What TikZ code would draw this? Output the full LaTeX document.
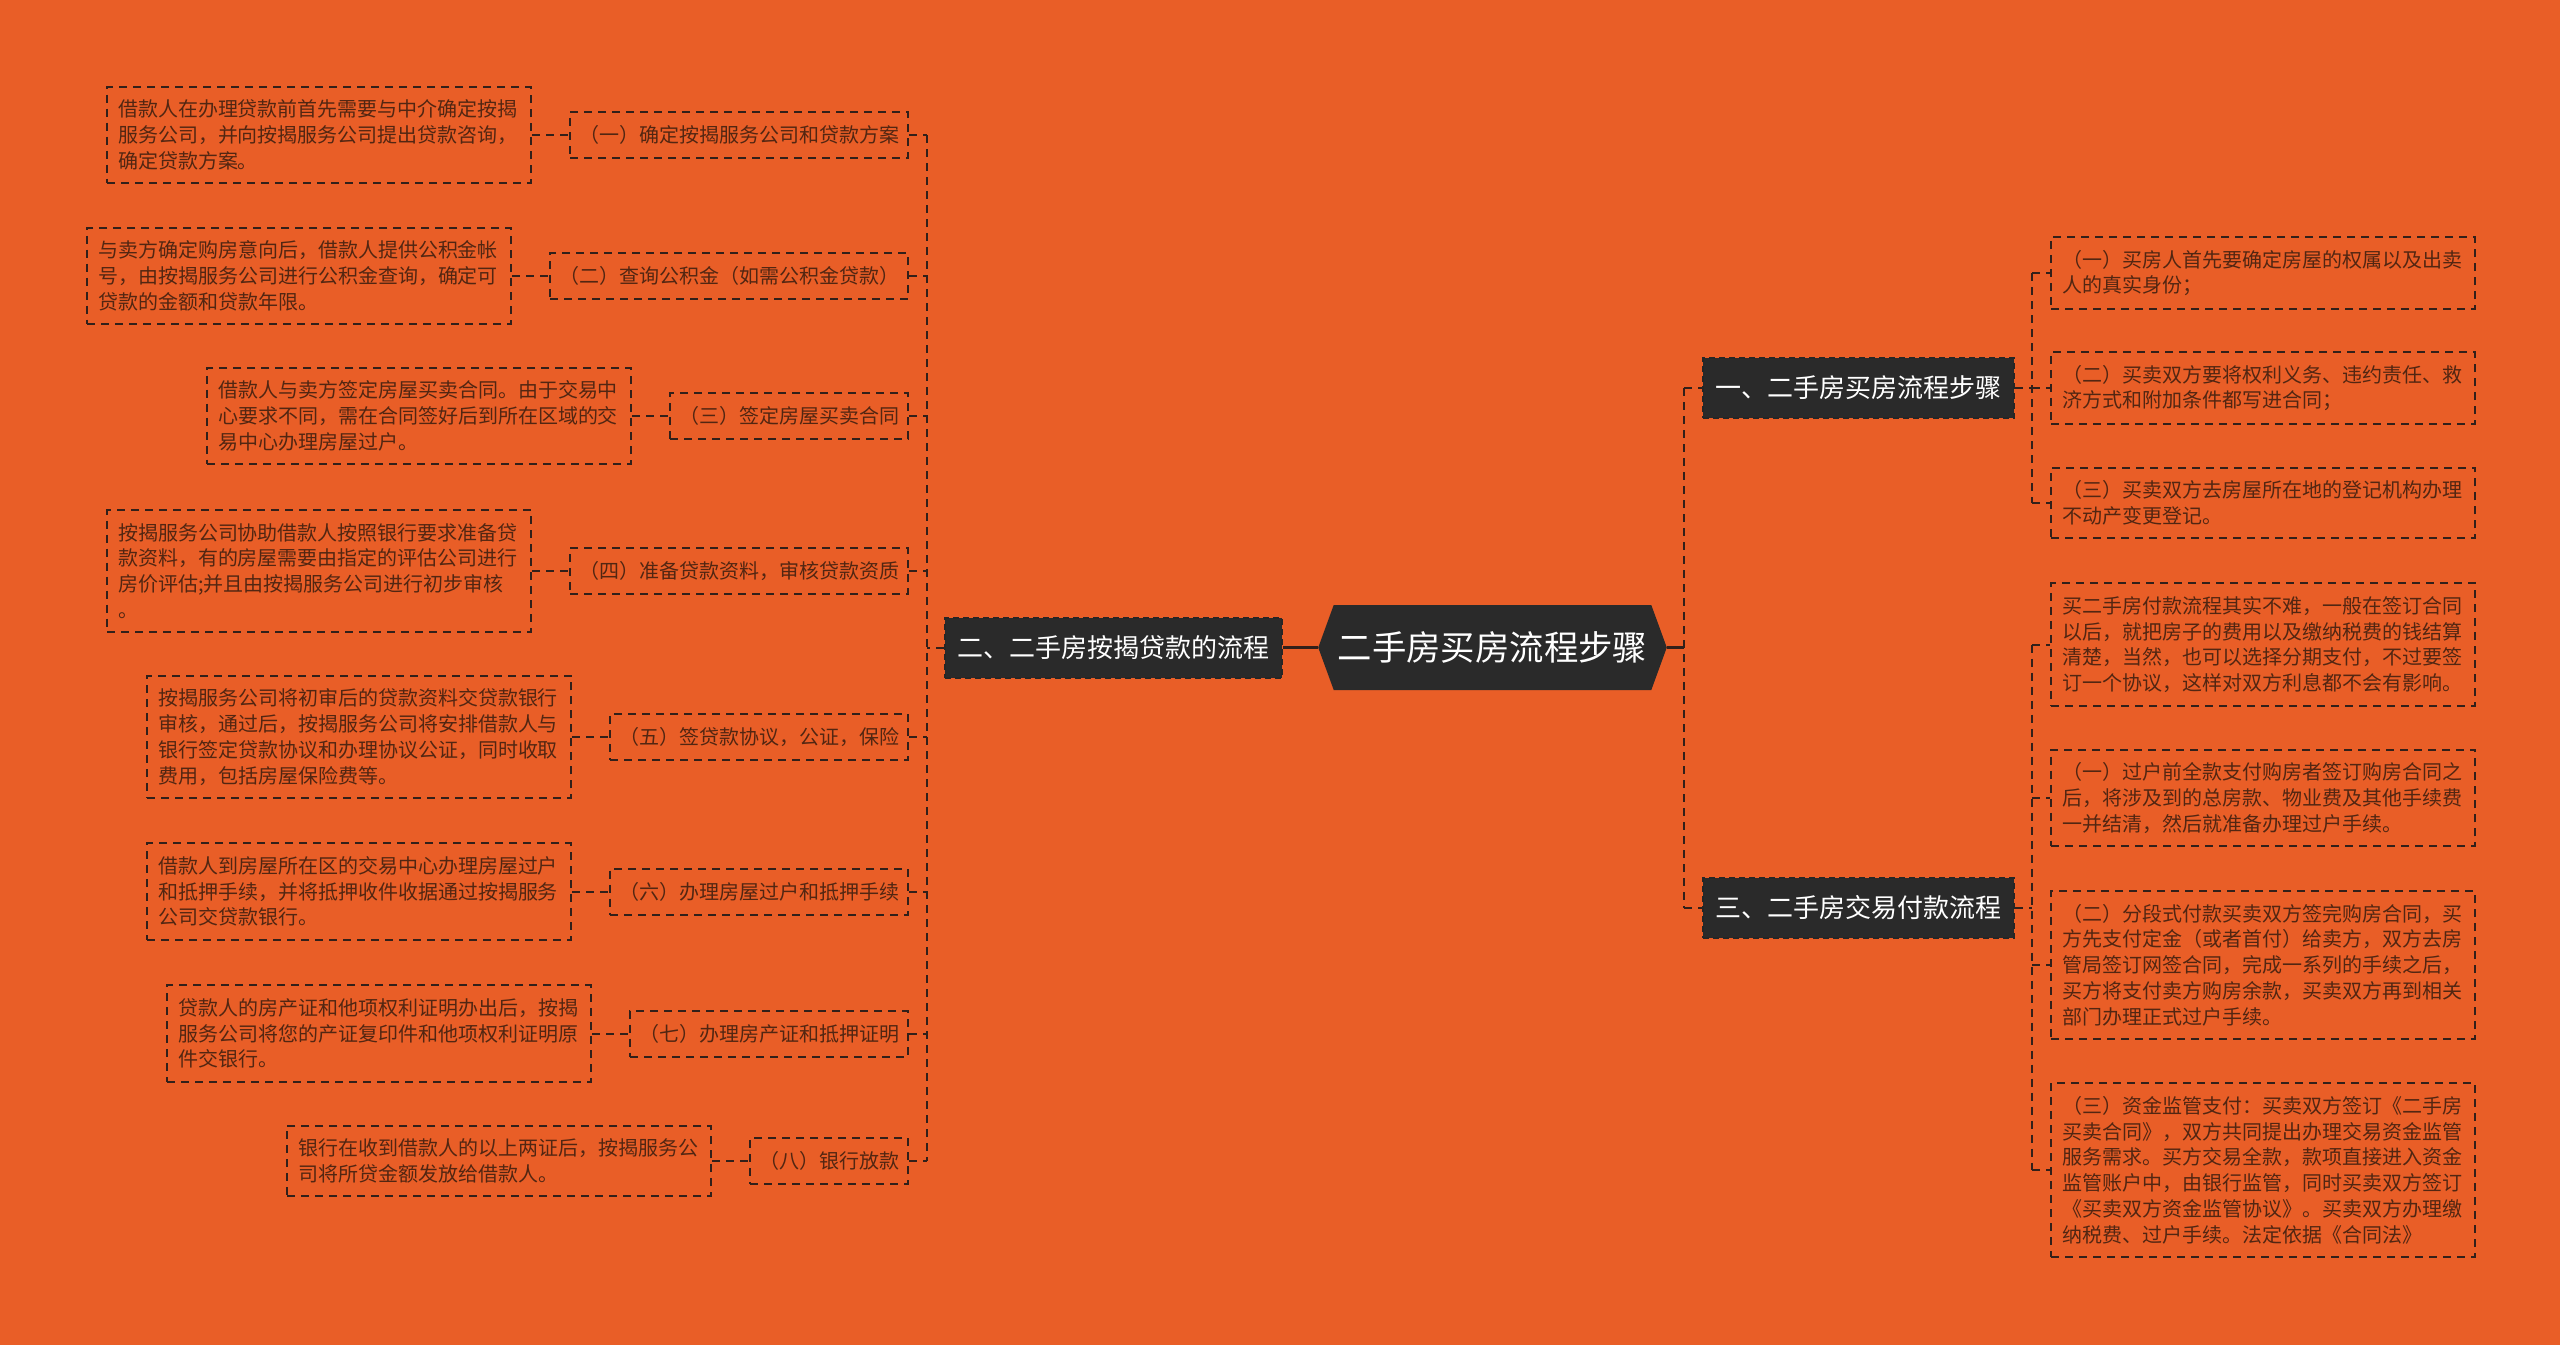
\documentclass[tikz,border=0pt]{standalone}
\usepackage{fontspec}
\setmainfont{Noto Sans CJK SC}
\usetikzlibrary{positioning,shapes.symbols}
\definecolor{bgorange}{RGB}{233,94,39}
\definecolor{boxdark}{RGB}{42,42,42}
\definecolor{linedark}{RGB}{50,32,26}
\definecolor{txtbrown}{RGB}{82,38,18}
\tikzset{
  leafbox/.style={draw=linedark,line width=1pt,dash pattern=on 4pt off 3pt,text=txtbrown,
    font=\fontsize{10}{12.9}\selectfont,align=left,text width=201pt,inner xsep=5.5pt,inner ysep=6.5pt},
  stepbox/.style={draw=linedark,line width=1pt,dash pattern=on 4pt off 3pt,text=txtbrown,
    font=\fontsize{10}{12.9}\selectfont,inner xsep=4.5pt,minimum height=23pt,anchor=east},
  branchbox/.style={fill=boxdark,draw=black!85,line width=1pt,dash pattern=on 3pt off 2pt,text=white,
    font=\fontsize{13}{15}\selectfont,inner xsep=6.25pt,minimum height=30pt},
  rootbox/.style={signal,signal to=east and west,signal pointer angle=140,fill=boxdark,text=white,
    font=\fontsize{17.2}{20}\selectfont,minimum height=42.5pt,inner xsep=2pt},
  dashlink/.style={draw=linedark,line width=1pt,dash pattern=on 4pt off 3pt},
  solidlink/.style={draw=linedark,line width=1.5pt}
}
\begin{document}
\begin{tikzpicture}[x=0.5pt,y=-0.5pt]
  \useasboundingbox (0,0) rectangle (2560,1345);
  \fill[bgorange] (0,0) rectangle (2560,1345);
  % --- centre and main branches ---
  \node[rootbox] (root) at (1492.5,647.5) {二手房买房流程步骤};
  \node[branchbox,left=17.5pt of root] (bra2) {二、二手房按揭贷款的流程};
  \node[branchbox,anchor=west] (bra1) at (1702,388) {一、二手房买房流程步骤};
  \node[branchbox,anchor=west] (bra3) at (1702,907.5) {三、二手房交易付款流程};
  \coordinate (ltrunk) at (927,0);
  \coordinate (rtrunk) at (1684,0);
  \coordinate (rbtrunk) at (2032,0);
  % --- left: mortgage steps ---
  \node[stepbox] (sub1) at (909,135) {（一）确定按揭服务公司和贷款方案};
  \node[stepbox] (sub2) at (909,276) {（二）查询公积金（如需公积金贷款）};
  \node[stepbox] (sub3) at (909,416) {（三）签定房屋买卖合同};
  \node[stepbox] (sub4) at (909,571) {（四）准备贷款资料，审核贷款资质};
  \node[stepbox] (sub5) at (909,737) {（五）签贷款协议，公证，保险};
  \node[stepbox] (sub6) at (909,891.5) {（六）办理房屋过户和抵押手续};
  \node[stepbox] (sub7) at (909,1033.5) {（七）办理房产证和抵押证明};
  \node[stepbox] (sub8) at (909,1161) {（八）银行放款};
  \node[leafbox,left=18.5pt of sub1] (desc1) {借款人在办理贷款前首先需要与中介确定按揭\\服务公司，并向按揭服务公司提出贷款咨询，\\确定贷款方案。};
  \node[leafbox,left=18.5pt of sub2] (desc2) {与卖方确定购房意向后，借款人提供公积金帐\\号，由按揭服务公司进行公积金查询，确定可\\贷款的金额和贷款年限。};
  \node[leafbox,left=18.5pt of sub3] (desc3) {借款人与卖方签定房屋买卖合同。由于交易中\\心要求不同，需在合同签好后到所在区域的交\\易中心办理房屋过户。};
  \node[leafbox,left=18.5pt of sub4] (desc4) {按揭服务公司协助借款人按照银行要求准备贷\\款资料，有的房屋需要由指定的评估公司进行\\房价评估;并且由按揭服务公司进行初步审核\\。};
  \node[leafbox,left=18.5pt of sub5] (desc5) {按揭服务公司将初审后的贷款资料交贷款银行\\审核，通过后，按揭服务公司将安排借款人与\\银行签定贷款协议和办理协议公证，同时收取\\费用，包括房屋保险费等。};
  \node[leafbox,left=18.5pt of sub6] (desc6) {借款人到房屋所在区的交易中心办理房屋过户\\和抵押手续，并将抵押收件收据通过按揭服务\\公司交贷款银行。};
  \node[leafbox,left=18.5pt of sub7] (desc7) {贷款人的房产证和他项权利证明办出后，按揭\\服务公司将您的产证复印件和他项权利证明原\\件交银行。};
  \node[leafbox,left=18.5pt of sub8] (desc8) {银行在收到借款人的以上两证后，按揭服务公\\司将所贷金额发放给借款人。};
  \foreach \i in {1,...,8} {
    \draw[dashlink] (desc\i.east) -- (sub\i.west);
    \draw[dashlink] (sub\i.east) -- (sub\i.east -| ltrunk);
  }
  \draw[dashlink] (sub1.east -| ltrunk) -- (sub8.east -| ltrunk);
  \draw[dashlink] (bra2.west) -- (bra2.west -| ltrunk);
  % --- right: buying steps and payment ---
  \node[leafbox,anchor=west] (leaf1) at (2050,273) {（一）买房人首先要确定房屋的权属以及出卖\\人的真实身份；};
  \node[leafbox,anchor=west] (leaf2) at (2050,388) {（二）买卖双方要将权利义务、违约责任、救\\济方式和附加条件都写进合同；};
  \node[leafbox,anchor=west] (leaf3) at (2050,503) {（三）买卖双方去房屋所在地的登记机构办理\\不动产变更登记。};
  \node[leafbox,anchor=west] (leaf4) at (2050,644.5) {买二手房付款流程其实不难，一般在签订合同\\以后，就把房子的费用以及缴纳税费的钱结算\\清楚，当然，也可以选择分期支付，不过要签\\订一个协议，这样对双方利息都不会有影响。};
  \node[leafbox,anchor=west] (leaf5) at (2050,798) {（一）过户前全款支付购房者签订购房合同之\\后，将涉及到的总房款、物业费及其他手续费\\一并结清，然后就准备办理过户手续。};
  \node[leafbox,anchor=west] (leaf6) at (2050,965) {（二）分段式付款买卖双方签完购房合同，买\\方先支付定金（或者首付）给卖方，双方去房\\管局签订网签合同，完成一系列的手续之后，\\买方将支付卖方购房余款，买卖双方再到相关\\部门办理正式过户手续。};
  \node[leafbox,anchor=west] (leaf7) at (2050,1170) {（三）资金监管支付：买卖双方签订《二手房\\买卖合同》，双方共同提出办理交易资金监管\\服务需求。买方交易全款，款项直接进入资金\\监管账户中，由银行监管，同时买卖双方签订\\《买卖双方资金监管协议》。买卖双方办理缴\\纳税费、过户手续。法定依据《合同法》};
  \foreach \i in {1,...,7} \draw[dashlink] (leaf\i.west -| rbtrunk) -- (leaf\i.west);
  \draw[dashlink] (leaf1.west -| rbtrunk) -- (leaf3.west -| rbtrunk);
  \draw[dashlink] (leaf4.west -| rbtrunk) -- (leaf7.west -| rbtrunk);
  \draw[dashlink] (bra1.east) -- (bra1.east -| rbtrunk);
  \draw[dashlink] (bra3.east) -- (bra3.east -| rbtrunk);
  % --- links from the centre ---
  \draw[solidlink] (root.west) -- (bra2.east);
  \draw[solidlink] (root.east) -- (root.east -| rtrunk);
  \draw[dashlink] (bra1.west -| rtrunk) -- (bra3.west -| rtrunk);
  \draw[dashlink] (bra1.west -| rtrunk) -- (bra1.west);
  \draw[dashlink] (bra3.west -| rtrunk) -- (bra3.west);
\end{tikzpicture}
\end{document}
